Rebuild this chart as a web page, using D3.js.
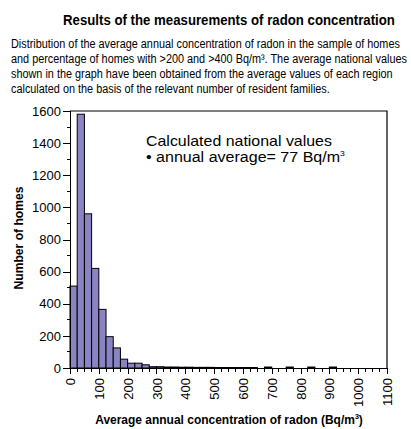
<!DOCTYPE html>
<html>
	<meta charset="utf-8" />
	<style>
		html,
		body {
			margin: 0;
			padding: 0;
			background: #fff;
		}
		svg text {
			font-family: "Liberation Sans", Arial, sans-serif;
			fill: #000;
		}
		.axis path,
		.axis line {
			stroke: #000;
			shape-rendering: crispEdges;
		}
	</style>
	<body>
		<svg width="411" height="429"></svg>
		<script src="https://d3js.org/d3.v7.min.js"></script>
		<script>
			// bins of 25 Bq/m3, value = number of homes
			var binStarts = d3.range(0, 1100, 25);
			var counts = [
				510, 1580, 960, 620, 365, 195, 125, 55, 30, 30, 20, 8, 8, 6, 6, 5, 5, 4, 4, 4, 3, 3, 3, 3, 3, 3, 0, 6, 0, 0, 6, 0, 0, 6, 0, 0, 6, 0, 0, 0, 0, 0, 0, 0,
			];
			var xTicks = [0, 100, 200, 300, 400, 500, 600, 700, 800, 900, 1000, 1100];
			var yTicks = [0, 200, 400, 600, 800, 1000, 1200, 1400, 1600];

			var title = "Results of the measurements of radon concentration";
			var desc = [
				"Distribution of the average annual concentration of radon in the sample of homes",
				"and percentage of homes with >200 and >400 Bq/m\u00b3. The average national values",
				"shown in the graph have been obtained from the average values of each region",
				"calculated on the basis of the relevant number of resident families.",
			];

			var svg = d3.select("svg");
			var m = { left: 70, right: 387, top: 111, bottom: 368 };

			var x = d3.scaleLinear().domain([0, 1100]).range([m.left, m.right]);
			var y = d3.scaleLinear().domain([0, 1600]).range([m.bottom, m.top]);

			// squeeze a text horizontally (the original uses a condensed face)
			function squeeze(sel, k, cx) {
				sel.attr("transform", "translate(" + cx + ",0) scale(" + k + ",1) translate(" + -cx + ",0)");
			}

			var t = svg.append("text")
				.attr("x", 229)
				.attr("y", 25)
				.attr("text-anchor", "middle")
				.style("font-weight", "bold")
				.style("font-size", "14px")
				.text(title);
			squeeze(t, 332 / t.node().getComputedTextLength(), 229);

			var descText = svg.append("g")
				.selectAll("text")
				.data(desc)
				.enter()
				.append("text")
				.attr("x", 11)
				.attr("y", function (d, i) {
					return 48 + i * 15;
				})
				.style("font-size", "13.5px")
				.text(function (d) {
					return d;
				});
			var k0 = 389 / descText.node().getComputedTextLength();
			descText.each(function () {
				squeeze(d3.select(this), k0, 11);
			});

			// bars
			var bins = binStarts.map(function (b, i) {
				return { x0: b, n: counts[i] };
			});
			svg.append("g")
				.selectAll("rect")
				.data(
					bins.filter(function (d) {
						return d.n > 0;
					})
				)
				.enter()
				.append("rect")
				.attr("x", function (d) {
					return x(d.x0);
				})
				.attr("y", function (d) {
					return y(d.n);
				})
				.attr("width", x(25) - x(0))
				.attr("height", function (d) {
					return y(0) - y(d.n);
				})
				.attr("fill", "#8b84c2")
				.attr("stroke", "#000")
				.attr("stroke-width", 1);

			// frame top & right
			svg.append("path")
				.attr("d", "M" + x(0) + "," + y(1600) + "H" + x(1100) + "V" + y(0))
				.attr("fill", "none")
				.attr("stroke", "#000")
				.attr("stroke-width", 1.2);

			// y axis
			var yAxis = svg.append("g")
				.attr("class", "axis")
				.attr("transform", "translate(" + m.left + ",0)")
				.call(d3.axisLeft(y).tickValues(yTicks).tickFormat(d3.format("d")).tickSize(7).tickPadding(2));
			yAxis.append("g")
				.selectAll("line")
				.data(d3.range(100, 1600, 200))
				.enter()
				.append("line")
				.attr("x1", -3)
				.attr("x2", 0)
				.attr("y1", y)
				.attr("y2", y);
			yAxis.selectAll(".tick text").style("font-size", "13px");

			// x axis
			var xAxis = svg.append("g")
				.attr("class", "axis")
				.attr("transform", "translate(0," + m.bottom + ")")
				.call(d3.axisBottom(x).tickValues(xTicks).tickFormat(d3.format("d")).tickSize(6));
			xAxis.append("g")
				.selectAll("line")
				.data(
					d3.range(25, 1100, 25).filter(function (v) {
						return v % 100 !== 0;
					})
				)
				.enter()
				.append("line")
				.attr("y1", 0)
				.attr("y2", 4)
				.attr("x1", x)
				.attr("x2", x);
			xAxis.selectAll(".tick text")
				.style("font-size", "13px")
				.attr("transform", "rotate(-90)")
				.attr("text-anchor", "end")
				.attr("x", -10)
				.attr("y", 0)
				.attr("dy", "0.35em");

			var xl = svg.append("text")
				.attr("x", 229)
				.attr("y", 424)
				.attr("text-anchor", "middle")
				.style("font-weight", "bold")
				.style("font-size", "13.5px")
				.html("Average annual concentration of radon (Bq/m<tspan dy='-5' font-size='8'>3</tspan><tspan dy='5'>)</tspan>");
			squeeze(xl, 268 / xl.node().getComputedTextLength(), 229);

			var yl = svg.append("text")
				.attr("x", 0)
				.attr("y", 0)
				.attr("text-anchor", "middle")
				.style("font-weight", "bold")
				.style("font-size", "13.5px")
				.text("Number of homes");
			var yk = 103 / yl.node().getComputedTextLength();
			yl.attr("transform", "translate(23,238) rotate(-90) scale(" + yk + ",1)");

			var l1 = svg.append("text")
				.attr("x", 146)
				.attr("y", 146)
				.style("font-size", "15px")
				.text("Calculated national values");
			squeeze(l1, 186 / l1.node().getComputedTextLength(), 146);
			var l2 = svg.append("text")
				.attr("x", 146)
				.attr("y", 162)
				.style("font-size", "15px")
				.html("\u2022 annual average= 77 Bq/m<tspan dy='-6' font-size='8'>3</tspan>");
			squeeze(l2, 199 / l2.node().getComputedTextLength(), 146);
		</script>
	</body>
</html>
